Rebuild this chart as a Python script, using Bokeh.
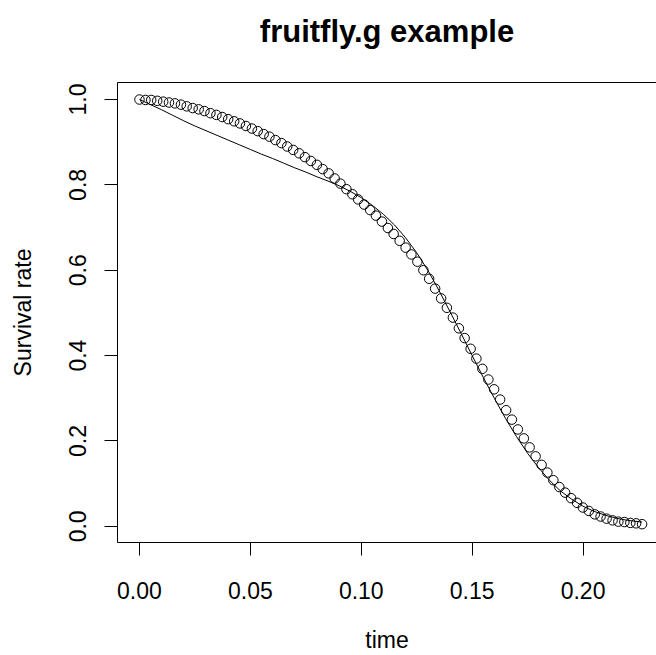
from bokeh.plotting import figure
from bokeh.models import Range1d, FixedTicker, PrintfTickFormatter, LinearAxis
from bokeh.embed import file_html
from bokeh.resources import INLINE

# observed survival (circles)
time_obs = [0.0000, 0.0027, 0.0053, 0.0080, 0.0107, 0.0133, 0.0160, 0.0187, 0.0213, 0.0240,
            0.0267, 0.0293, 0.0320, 0.0347, 0.0373, 0.0400, 0.0427, 0.0453, 0.0480, 0.0507,
            0.0533, 0.0560, 0.0586, 0.0613, 0.0640, 0.0666, 0.0693, 0.0720, 0.0746, 0.0773,
            0.0800, 0.0826, 0.0853, 0.0880, 0.0906, 0.0933, 0.0960, 0.0986, 0.1013, 0.1040,
            0.1066, 0.1093, 0.1120, 0.1146, 0.1173, 0.1200, 0.1226, 0.1253, 0.1280, 0.1306,
            0.1333, 0.1360, 0.1386, 0.1413, 0.1440, 0.1466, 0.1493, 0.1519, 0.1546, 0.1573,
            0.1599, 0.1626, 0.1653, 0.1679, 0.1706, 0.1733, 0.1759, 0.1786, 0.1813, 0.1839,
            0.1866, 0.1893, 0.1919, 0.1946, 0.1973, 0.1999, 0.2026, 0.2053, 0.2079, 0.2106,
            0.2133, 0.2159, 0.2186, 0.2213, 0.2239, 0.2266]
surv_obs = [1.000, 0.999, 0.999, 0.997, 0.995, 0.993, 0.991, 0.988, 0.984, 0.980,
            0.977, 0.973, 0.968, 0.964, 0.959, 0.954, 0.949, 0.944, 0.938, 0.932,
            0.926, 0.919, 0.913, 0.905, 0.898, 0.890, 0.882, 0.874, 0.865, 0.856,
            0.847, 0.837, 0.827, 0.815, 0.803, 0.790, 0.778, 0.766, 0.754, 0.741,
            0.728, 0.714, 0.699, 0.685, 0.669, 0.653, 0.637, 0.620, 0.600, 0.580,
            0.557, 0.534, 0.512, 0.489, 0.464, 0.441, 0.416, 0.393, 0.369, 0.344,
            0.321, 0.297, 0.272, 0.250, 0.227, 0.206, 0.185, 0.164, 0.144, 0.126,
            0.108, 0.092, 0.079, 0.066, 0.055, 0.044, 0.036, 0.028, 0.023, 0.018,
            0.014, 0.011, 0.010, 0.008, 0.007, 0.005]

# fitted survival (line)
time_fit = [0.000, 0.005, 0.010, 0.015, 0.020, 0.025, 0.030, 0.035, 0.040, 0.045,
            0.050, 0.055, 0.060, 0.065, 0.070, 0.075, 0.080, 0.085, 0.090, 0.095,
            0.100, 0.105, 0.110, 0.115, 0.120, 0.125, 0.130, 0.135, 0.140, 0.145,
            0.150, 0.155, 0.160, 0.165, 0.170, 0.175, 0.180, 0.185, 0.190, 0.195,
            0.200, 0.205, 0.210, 0.215, 0.220, 0.2266]
surv_fit = [1.000, 0.988, 0.976, 0.963, 0.950, 0.938, 0.927, 0.916, 0.905, 0.894,
            0.883, 0.872, 0.862, 0.851, 0.840, 0.830, 0.819, 0.809, 0.798, 0.785,
            0.770, 0.752, 0.731, 0.706, 0.676, 0.641, 0.600, 0.553, 0.503, 0.452,
            0.400, 0.349, 0.300, 0.253, 0.210, 0.171, 0.137, 0.107, 0.082, 0.063,
            0.047, 0.035, 0.026, 0.019, 0.014, 0.010]

x_ticks = [0.00, 0.05, 0.10, 0.15, 0.20]
y_ticks = [0.0, 0.2, 0.4, 0.6, 0.8, 1.0]

FONT = "Liberation Sans"
FS = "23px"

p = figure(width=656, height=655, output_backend="svg", toolbar_location=None,
           title_location=None,
           x_range=Range1d(-0.0099, 0.2331), y_range=Range1d(-0.0379, 1.0399),
           min_border_left=117, min_border_right=0, min_border_top=82, min_border_bottom=113,
           background_fill_color="white", border_fill_color="white")
p.outline_line_color = None
p.xgrid.visible = False
p.ygrid.visible = False

bottom = p.below[0]
left = p.left[0]

# top axis: draws the top edge of the box and carries the bold main title
top = LinearAxis(ticker=FixedTicker(ticks=[]), axis_label="fruitfly.g example",
                 major_label_text_font_size="1px")
p.add_layout(top, "above")

for ax in (bottom, left, top):
    ax.axis_line_color = "black"
    ax.major_tick_line_color = "black"
    ax.minor_tick_line_color = None
    ax.major_tick_out = 13
    ax.major_tick_in = 0
    ax.major_label_text_font = FONT
    ax.major_label_text_color = "black"
    ax.axis_label_text_font = FONT
    ax.axis_label_text_font_size = FS
    ax.axis_label_text_font_style = "normal"
    ax.axis_label_text_color = "black"

bottom.major_label_text_font_size = FS
left.major_label_text_font_size = FS

top.major_tick_out = 0
top.major_tick_line_color = None
top.axis_label_text_font_size = "31px"
top.axis_label_text_font_style = "bold"
top.axis_label_standoff = 34

bottom.ticker = FixedTicker(ticks=x_ticks)
bottom.formatter = PrintfTickFormatter(format="%.2f")
bottom.major_label_standoff = 26
bottom.axis_label = "time"
bottom.axis_label_standoff = 25

left.ticker = FixedTicker(ticks=y_ticks)
left.formatter = PrintfTickFormatter(format="%.1f")
left.axis_label = "Survival rate"
left.major_label_orientation = "vertical"
left.major_label_standoff = 18
left.axis_label_standoff = 31

p.line(time_fit, surv_fit, line_color="black", line_width=1)
p.scatter(time_obs, surv_obs, marker="circle", size=9.5, fill_color=None,
          line_color="black", line_width=1)

open("out.html", "w").write(file_html(p, INLINE))
